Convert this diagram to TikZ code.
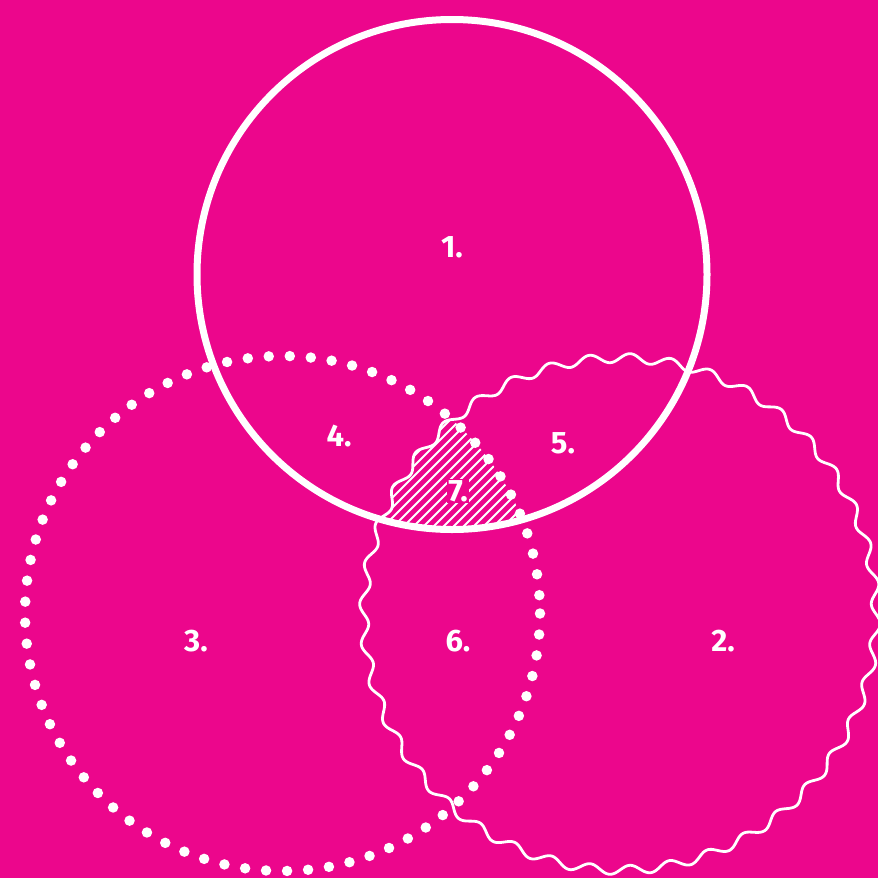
\documentclass[tikz,border=0pt]{standalone}
\usepackage{fontspec}
\setmainfont{Fira Sans}
\definecolor{bgpink}{HTML}{EC068C}
\begin{document}
\begin{tikzpicture}[x=1pt,y=-1pt,
  lbl/.style={text=white,font=\fontsize{31}{33}\selectfont\bfseries,inner sep=1pt},
  solidring/.style={draw=white,line width=7pt},
  dotring/.style={draw=white,line width=10.5pt,line cap=round,dash pattern=on 0pt off 21.05pt},
  wavering/.style={draw=white,line width=2.8pt},
  hatchline/.style={draw=white,line width=2pt}]
\fill[bgpink] (0,0) rectangle (878,878);
\useasboundingbox (0,0) rectangle (878,878);
% hatched triple intersection
\begin{scope}
  \clip (452,274.5) circle (255);
  \clip (282.5,613.5) circle (257.5);
  \clip plot[domain=0:360,samples=1441] ({620+(256+4.5*sin(40*\x))*cos(\x)},{614+(256+4.5*sin(40*\x))*sin(\x)}) -- cycle;
  \foreach \i in {0,...,40}{
    \draw[hatchline] (250+10*\i,600) -- (450+10*\i,400);
  }
\end{scope}
% circles
\draw[solidring] (452,274.5) circle (255);
\draw[dotring] (282.5,613.5) circle (257.5);
\draw[wavering] plot[domain=0:360,samples=1441] ({620+(256+4.5*sin(40*\x))*cos(\x)},{614+(256+4.5*sin(40*\x))*sin(\x)}) -- cycle;
% labels
\node[lbl] (n1) at (452,247) {1.};
\node[lbl] (n2) at (723,641) {2.};
\node[lbl] (n3) at (196,641) {3.};
\node[lbl] (n4) at (339,436) {4.};
\node[lbl] (n5) at (563,443) {5.};
\node[lbl] (n6) at (458,641) {6.};
\node[lbl,fill=bgpink] (n7) at (458,491) {7.};
\end{tikzpicture}
\end{document}
